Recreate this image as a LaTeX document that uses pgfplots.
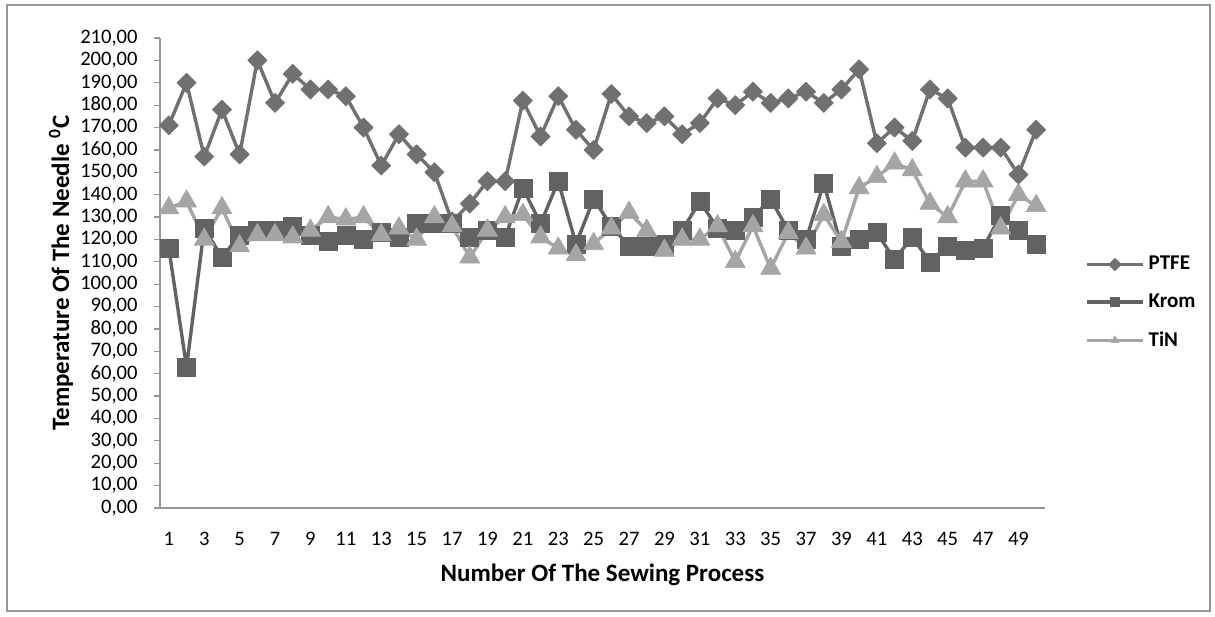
\documentclass[border=0pt]{standalone}
\usepackage{pgfplots}
\pgfplotsset{compat=1.18}
\usepackage{fontspec}
\setmainfont{Carlito}
\definecolor{cptfe}{RGB}{112,112,112}
\definecolor{ckrom}{RGB}{98,98,98}
\definecolor{ctin}{RGB}{165,165,165}
\definecolor{axgray}{RGB}{150,150,150}
\begin{document}
\begin{tikzpicture}
\useasboundingbox (0,0) rectangle (607.5pt,308pt);
\draw[axgray, line width=0.8pt] (3.5pt,2.5pt) rectangle (605pt,305.5pt);
\begin{axis}[
  at={(80pt,54pt)}, anchor=south west,
  scale only axis, width=442.5pt, height=235pt,
  xmin=0.5, xmax=50.5, ymin=0, ymax=210,
  ytick={0,10,...,210}, xtick={1,3,...,49},
  axis lines*=left, axis line style={axgray, line width=0.8pt, -},
  tick align=outside,
  ytick style={axgray, line width=0.6pt}, major tick length=3pt,
  xtick style={draw=none},
  /pgf/number format/assume math mode=true,
  yticklabel={\pgfmathprintnumber[fixed, fixed zerofill, precision=2, use comma]{\tick}},
  ticklabel style={font=\fontsize{10.3}{12}\selectfont, text=black},
  yticklabel style={anchor=east, inner sep=0pt, xshift=-8pt},
  xticklabel style={anchor=north, inner sep=0pt, yshift=-9pt},
  xlabel={Number Of The Sewing Process},
  ylabel={Temperature Of The Needle \textsuperscript{0}C},
  label style={font=\bfseries\fontsize{12.5}{14}\selectfont},
  xlabel style={at={(axis description cs:0.5,-0.1426)}, anchor=center},
  ylabel style={at={(axis description cs:-0.112,0.5)}, anchor=center},
  legend style={at={(axis description cs:1.045,0.545)}, anchor=north west, draw=none, fill=none,
    font=\bfseries\fontsize{10.5}{12}\selectfont, row sep=6.5pt, inner sep=0pt},
  legend cell align=left,
  legend image code/.code={\draw[mark repeat=2,mark phase=2,#1,mark size=2.2pt] plot coordinates {(0pt,0pt) (14pt,0pt) (28pt,0pt)};},
  clip=false,
  every axis plot/.append style={line join=round},
]
\addplot[cptfe, line width=1.7pt, mark=square*, mark size=3.4pt, mark options={rotate=45, fill=cptfe, draw=cptfe, line width=0.3pt}] coordinates {
(1,171) (2,190) (3,157) (4,178) (5,158) (6,200) (7,181) (8,194) (9,187) (10,187)
(11,184) (12,170) (13,153) (14,167) (15,158) (16,150) (17,128) (18,136) (19,146) (20,146)
(21,182) (22,166) (23,184) (24,169) (25,160) (26,185) (27,175) (28,172) (29,175) (30,167)
(31,172) (32,183) (33,180) (34,186) (35,181) (36,183) (37,186) (38,181) (39,187) (40,196)
(41,163) (42,170) (43,164) (44,187) (45,183) (46,161) (47,161) (48,161) (49,149) (50,169)};
\addlegendentry{PTFE}
\addplot[ckrom, line width=1.7pt, mark=square*, mark size=4.5pt, mark options={fill=ckrom, draw=ckrom, line width=0.3pt}] coordinates {
(1,116) (2,63) (3,125) (4,112) (5,122) (6,124) (7,124) (8,126) (9,122) (10,119)
(11,122) (12,120) (13,123) (14,121) (15,127) (16,127) (17,127) (18,121) (19,124) (20,121)
(21,143) (22,127) (23,146) (24,118) (25,138) (26,126) (27,117) (28,117) (29,118) (30,124)
(31,137) (32,125) (33,124) (34,130) (35,138) (36,124) (37,120) (38,145) (39,117) (40,120)
(41,123) (42,111) (43,121) (44,110) (45,117) (46,115) (47,116) (48,131) (49,124) (50,118)};
\addlegendentry{Krom}
\addplot[ctin, line width=1.7pt, mark=triangle*, mark size=5.8pt, mark options={fill=ctin, draw=ctin, line width=0.3pt}] coordinates {
(1,134) (2,137) (3,120) (4,134) (5,117) (6,122) (7,122) (8,121) (9,124) (10,130)
(11,129) (12,130) (13,122) (14,125) (15,120) (16,130) (17,126) (18,112) (19,124) (20,130)
(21,131) (22,121) (23,116) (24,113) (25,118) (26,125) (27,132) (28,124) (29,115) (30,120)
(31,120) (32,126) (33,110) (34,126) (35,107) (36,123) (37,116) (38,131) (39,119) (40,143)
(41,148) (42,154) (43,151) (44,136) (45,130) (46,146) (47,146) (48,125) (49,140) (50,135)};
\addlegendentry{TiN}
\end{axis}
\end{tikzpicture}
\end{document}
